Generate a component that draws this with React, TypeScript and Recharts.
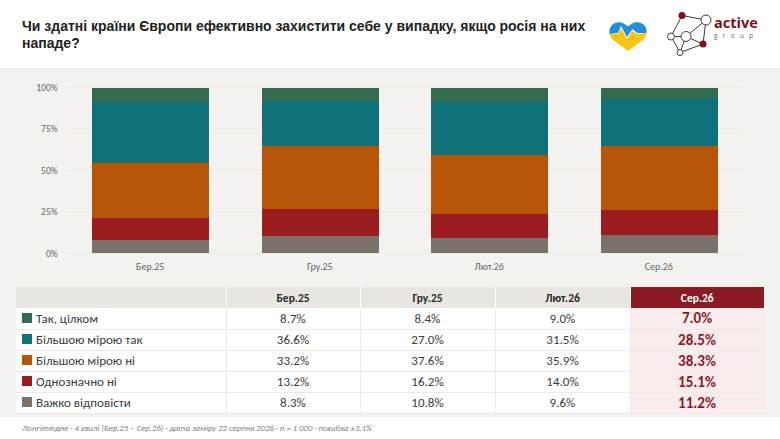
import { BarChart, Bar, XAxis, YAxis, CartesianGrid } from 'recharts'

const waves = ['Бер.25', 'Гру.25', 'Лют.26', 'Сер.26']
const answers = ['Так, цілком', 'Більшою мірою так', 'Більшою мірою ні', 'Однозначно ні', 'Важко відповісти']
const colors = ['#336b50', '#0e7278', '#b65508', '#9a1c1f', '#7a716b']

const fully = [8.7, 8.4, 9.0, 7.0]
const mostlyYes = [36.6, 27.0, 31.5, 28.5]
const mostlyNo = [33.2, 37.6, 35.9, 38.3]
const definitelyNo = [13.2, 16.2, 14.0, 15.1]
const hardToSay = [8.3, 10.8, 9.6, 11.2]
const rows = [fully, mostlyYes, mostlyNo, definitelyNo, hardToSay]

const yTicks = [0, 25, 50, 75, 100]

const data = waves.map((wave, i) => ({
  wave,
  hardToSay: hardToSay[i],
  definitelyNo: definitelyNo[i],
  mostlyNo: mostlyNo[i],
  mostlyYes: mostlyYes[i],
  fully: fully[i]
}))

const stack = [
  { key: 'hardToSay', color: colors[4] },
  { key: 'definitelyNo', color: colors[3] },
  { key: 'mostlyNo', color: colors[2] },
  { key: 'mostlyYes', color: colors[1] },
  { key: 'fully', color: colors[0] }
]

const colWidths = [210, 134, 135, 135, 134]
const headRowHeight = 21
const rowHeight = 21
const bodyFont = 'Carlito, Lato, sans-serif'

function Heart() {
  return (
    <svg width="40" height="34" viewBox="0 0 40 34" style={{ position: 'absolute', left: 608, top: 19 }}>
      <path d="M20 32 L5 21 C3 19 2 17 1.5 15 L10 15 L13 9 L19 20 L24 12 L29 15 L38.5 14 C38 17 37 19 35 21 Z" fill="#fac412" />
      <path d="M1.5 15 C0 7 7 2 13 3.5 C16 4.3 18 6 20 7.5 C22 6 24 4.3 27 3.5 C33 2 40 7 38.5 14 L29 14 L24.5 10 L19 18 L13 7 L10 14 Z" fill="#1f8fe0" />
    </svg>
  )
}

function Logo() {
  const links = [
    [682, 15.5, 706, 20], [706, 20, 703, 44], [703, 44, 680, 52.5], [680, 52.5, 671, 36.5],
    [671, 36.5, 682, 15.5], [671, 36.5, 686, 36.5], [686, 36.5, 706, 20], [686, 36.5, 703, 44], [686, 36.5, 680, 52.5]
  ]
  return (
    <svg width="780" height="68" style={{ position: 'absolute', left: 0, top: 0 }}>
      {links.map((l, i) => (
        <line key={i} x1={l[0]} y1={l[1]} x2={l[2]} y2={l[3]} stroke="#3a3a3a" strokeWidth="1" />
      ))}
      <circle cx="682" cy="15.5" r="3.5" fill="#7d0f1f" />
      <circle cx="706" cy="20" r="5" fill="#fff" stroke="#3a3a3a" />
      <circle cx="703" cy="44" r="3.5" fill="#7d0f1f" />
      <circle cx="680" cy="52.5" r="3" fill="#fff" stroke="#3a3a3a" />
      <circle cx="671" cy="36.5" r="3.5" fill="#fff" stroke="#3a3a3a" />
      <circle cx="686" cy="36.5" r="5" fill="#fff" stroke="#3a3a3a" />
    </svg>
  )
}

function ResultsTable() {
  const cell = { borderRight: '1px solid #eeebe7', borderBottom: '1px solid #eeebe7', padding: 0, boxSizing: 'border-box' as const }
  return (
    <table
      style={{
        position: 'absolute', left: 16, top: 287, width: 748, borderCollapse: 'collapse', tableLayout: 'fixed',
        fontFamily: bodyFont, fontSize: 13, color: '#3c3c3c', background: '#fff'
      }}
    >
      <colgroup>
        {colWidths.map((w, i) => <col key={i} style={{ width: w }} />)}
      </colgroup>
      <thead>
        <tr style={{ height: headRowHeight }}>
          <th style={{ background: '#e9e5e1', borderRight: '1px solid #fff', padding: 0 }} />
          {waves.map((w, i) => (
            <th
              key={w}
              style={{
                background: i === 3 ? '#8b1a25' : '#e9e5e1',
                color: i === 3 ? '#fff' : '#2a2a2a',
                borderRight: i === 3 ? 'none' : '1px solid #fff',
                fontSize: 11.5, fontWeight: 700, textAlign: 'center', padding: 0
              }}
            >
              {w}
            </th>
          ))}
        </tr>
      </thead>
      <tbody>
        {answers.map((a, r) => (
          <tr key={a} style={{ height: rowHeight }}>
            <td style={{ ...cell, paddingLeft: 6 }}>
              <span style={{ display: 'inline-block', width: 10, height: 10, background: colors[r], marginRight: 4, verticalAlign: 0 }} />
              {a}
            </td>
            {rows[r].map((v, c) => (
              <td
                key={c}
                style={{
                  ...cell, textAlign: 'center',
                  background: c === 3 ? '#f9eced' : '#fff',
                  color: c === 3 ? '#8b1a2b' : '#3c3c3c',
                  fontWeight: c === 3 ? 700 : 400,
                  fontSize: c === 3 ? 15 : 13
                }}
              >
                {v.toFixed(1)}%
              </td>
            ))}
          </tr>
        ))}
      </tbody>
    </table>
  )
}

export default function App() {
  return (
    <div style={{ position: 'absolute', left: 0, top: 0, width: 780, height: 439, background: '#fff', overflow: 'hidden' }}>
      <div
        style={{
          position: 'absolute', left: 22, top: 18, width: 572,
          fontFamily: '"Liberation Sans", Arial, sans-serif', fontWeight: 700, fontSize: 14, lineHeight: '17px', color: '#222'
        }}
      >
        Чи здатні країни Європи ефективно захистити себе у випадку, якщо росія на них нападе?
      </div>
      <Heart />
      <Logo />
      <div style={{ position: 'absolute', left: 714, top: 15, fontFamily: '"Open Sans", sans-serif', fontWeight: 700, fontSize: 14.5, lineHeight: '16px', color: '#7d0f1f' }}>
        active
      </div>
      <div style={{ position: 'absolute', left: 714, top: 32, fontFamily: '"Open Sans", sans-serif', fontSize: 6.5, lineHeight: '8px', letterSpacing: 5.3, color: '#666' }}>
        group
      </div>

      <div style={{ position: 'absolute', left: 0, top: 68, width: 780, height: 349, background: '#f4f2ee' }} />
      <div style={{ position: 'absolute', left: 0, top: 68 }}>
        <BarChart
          width={780}
          height={220}
          data={data}
          margin={{ top: 19.5, right: 36.5, left: 0, bottom: 0 }}
          barCategoryGap={26.5}
        >
          <CartesianGrid horizontal vertical={false} stroke="#ece9e4" />
          <XAxis
            dataKey="wave"
            height={34.5}
            tickLine={false}
            axisLine={{ stroke: '#ece9e4' }}
            tickMargin={3}
            tick={{ fontSize: 10, fill: '#666', fontFamily: bodyFont }}
          />
          <YAxis
            width={65.5}
            domain={[0, 100]}
            allowDataOverflow
            ticks={yTicks}
            tickFormatter={(v: number) => `${v}%`}
            tickLine={false}
            axisLine={false}
            tickMargin={2}
            tick={{ fontSize: 9.5, fill: '#666', fontFamily: bodyFont }}
          />
          {stack.map(s => (
            <Bar key={s.key} dataKey={s.key} stackId="a" fill={s.color} shapeRendering="crispEdges" isAnimationActive={false} />
          ))}
        </BarChart>
      </div>

      <ResultsTable />

      <div
        style={{
          position: 'absolute', left: 22, top: 422, fontFamily: bodyFont, fontStyle: 'italic',
          fontSize: 8.7, lineHeight: '12px', color: '#808080', whiteSpace: 'nowrap'
        }}
      >
        Лонгітюдне · 4 хвилі (Бер.25 – Сер.26) · дата заміру 22 серпня 2026 · n = 1 000 · похибка ±3,1%
      </div>
    </div>
  )
}
